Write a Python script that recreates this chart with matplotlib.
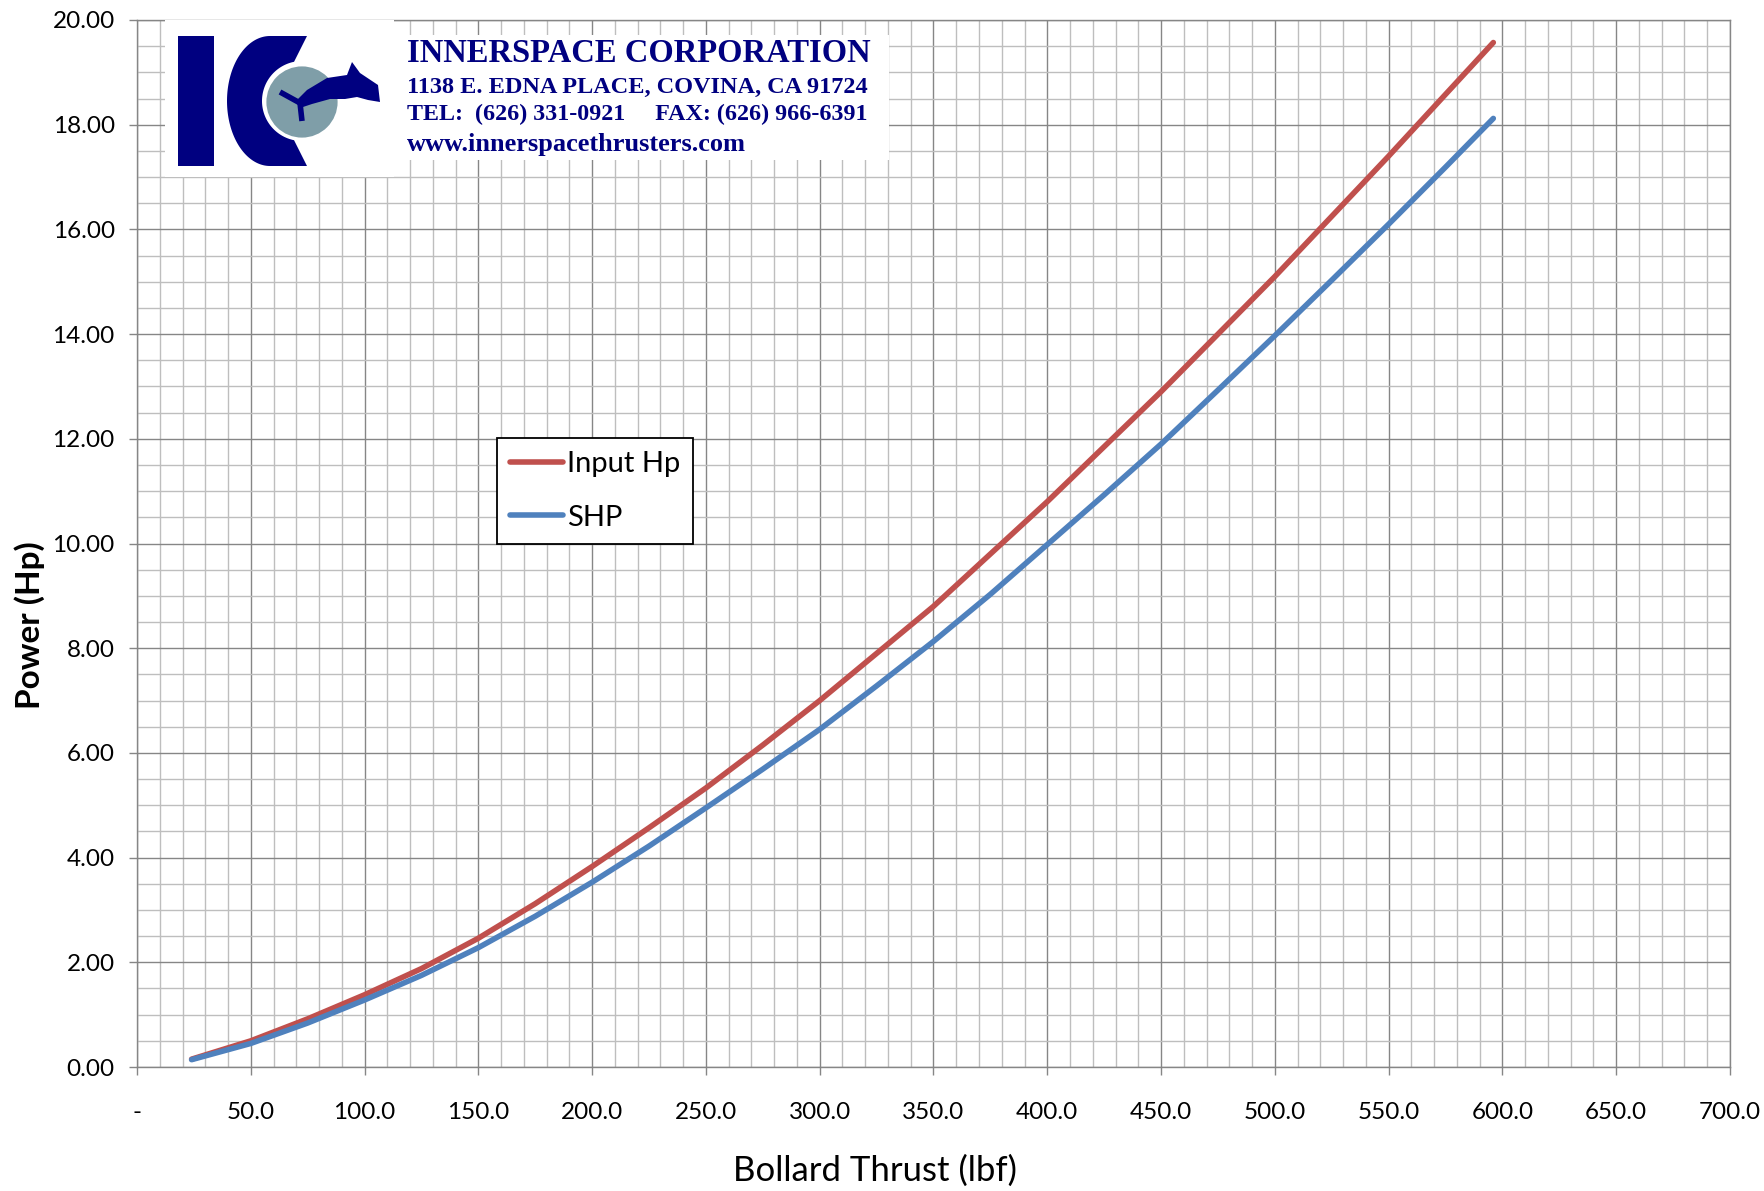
import numpy as np
import matplotlib
matplotlib.use('Agg')
import matplotlib.pyplot as plt
from matplotlib.ticker import MultipleLocator, FuncFormatter
from matplotlib.patches import Rectangle, Circle, Polygon

# thrust (lbf) vs power (Hp)
thrust = [24, 50, 75, 100, 125, 150, 175, 200, 225, 250, 275, 300, 325, 350,
          375, 400, 425, 450, 475, 500, 525, 550, 575, 596]
input_hp = [0.15, 0.50, 0.92, 1.38, 1.88, 2.46, 3.12, 3.83, 4.57, 5.33, 6.15, 7.00,
            7.90, 8.80, 9.80, 10.80, 11.85, 12.90, 14.00, 15.10, 16.25, 17.40, 18.58, 19.57]
shp = [0.14, 0.45, 0.84, 1.28, 1.75, 2.28, 2.88, 3.53, 4.22, 4.95, 5.69, 6.45,
       7.28, 8.13, 9.03, 9.98, 10.93, 11.90, 12.93, 13.97, 15.03, 16.10, 17.19, 18.12]

W, H = 1765, 1191
fig = plt.figure(figsize=(W / 100, H / 100), dpi=100)
ax = fig.add_axes([137 / W, 1 - 1067 / H, (1730 - 137) / W, (1067 - 20) / H])

ax.plot(thrust, input_hp, color='#C0504D', lw=4, solid_capstyle='round', label='Input Hp', zorder=3)
ax.plot(thrust, shp, color='#4F81BD', lw=4, solid_capstyle='round', label='SHP', zorder=3)

ax.set_xlim(0, 700)
ax.set_ylim(0, 20)
ax.xaxis.set_major_locator(MultipleLocator(50))
ax.xaxis.set_minor_locator(MultipleLocator(10))
ax.yaxis.set_major_locator(MultipleLocator(2))
ax.yaxis.set_minor_locator(MultipleLocator(0.5))
ax.xaxis.set_major_formatter(FuncFormatter(lambda v, p: '-' if abs(v) < 1e-9 else f'{v:.1f}'))
ax.yaxis.set_major_formatter(FuncFormatter(lambda v, p: f'{v:.2f}'))

ax.grid(which='major', color='#868686', lw=1.0)
ax.grid(which='minor', color='#bebebe', lw=1.0)
ax.set_axisbelow(True)
for s in ax.spines.values():
    s.set_color('#868686')
    s.set_linewidth(1.0)

font = 'Lato'
ax.tick_params(which='major', direction='out', length=6, width=1.0, color='#868686',
               labelsize=17.5)
ax.tick_params(which='minor', direction='out', length=0)
ax.tick_params(axis='y', pad=10)
ax.tick_params(axis='x', pad=19)
for lbl in ax.get_xticklabels() + ax.get_yticklabels():
    lbl.set_fontfamily(font)

fig.text(875 / W, 1 - 1171 / H, 'Bollard Thrust (lbf)', fontsize=25, family=font,
         ha='center', va='center')
fig.text(30 / W, 1 - 625 / H, 'Power (Hp)', fontsize=24, family=font, fontweight='bold',
         rotation=90, ha='center', va='center')

leg = ax.legend(loc='upper left', bbox_to_anchor=(0.226, 0.601), borderaxespad=0,
                fancybox=False, edgecolor='black', framealpha=1,
                prop={'family': font, 'size': 21}, handlelength=1.8, handletextpad=0.15,
                borderpad=0.45, labelspacing=0.95)
leg.get_frame().set_linewidth(1.3)

# logo block, drawn in pixel coordinates
ov = fig.add_axes([0, 0, 1, 1], zorder=5)
ov.set_xlim(0, W)
ov.set_ylim(H, 0)
ov.axis('off')
navy = '#000080'
ov.add_patch(Rectangle((165, 20), 229, 157, fc='white', ec='none'))
ov.add_patch(Rectangle((394, 35), 495, 125, fc='white', ec='none'))
ov.add_patch(Rectangle((178, 36), 36, 130, fc=navy, ec='none'))

# the "C"
t = np.linspace(np.pi / 2, 3 * np.pi / 2, 80)
outer = np.column_stack([270 + 43 * np.cos(t), 101 - 65 * np.sin(t)])
ti = np.linspace(3 * np.pi / 2 - 0.2, np.pi / 2 + 0.2, 80)
inner = np.column_stack([302 + 40 * np.cos(ti), 101 - 40 * np.sin(ti)])
c_pts = np.vstack([[[307, 36]], outer, [[307, 166]], inner])
ov.add_patch(Polygon(c_pts, closed=True, fc=navy, ec='none'))
ov.add_patch(Circle((302, 102), 37, fc='#7f9ea8', ec='white', lw=2))

# propeller and tail
ov.plot([300, 280], [103, 92], color=navy, lw=4, solid_capstyle='butt')
ov.plot([300, 302], [103, 121], color=navy, lw=4, solid_capstyle='butt')
tail = [(296, 101), (307, 90), (327, 78), (347, 75), (352, 62), (360, 73),
        (378, 85), (380, 102), (368, 100), (357, 97), (345, 99), (330, 99),
        (312, 104), (303, 107)]
ov.add_patch(Polygon(tail, closed=True, fc=navy, ec='none'))

serif = 'Liberation Serif'
ov.text(407, 54, 'INNERSPACE CORPORATION', family=serif, fontweight='bold',
        color=navy, fontsize=23.5, va='center', ha='left')
ov.text(407, 87, '1138 E. EDNA PLACE, COVINA, CA 91724', family=serif, fontweight='bold',
        color=navy, fontsize=17.5, va='center', ha='left')
ov.text(407, 114, 'TEL:  (626) 331-0921     FAX: (626) 966-6391', family=serif,
        fontweight='bold', color=navy, fontsize=17.3, va='center', ha='left')
ov.text(407, 144, 'www.innerspacethrusters.com', family=serif, fontweight='bold',
        color=navy, fontsize=19, va='center', ha='left')

fig.savefig('out.png', dpi=100)
